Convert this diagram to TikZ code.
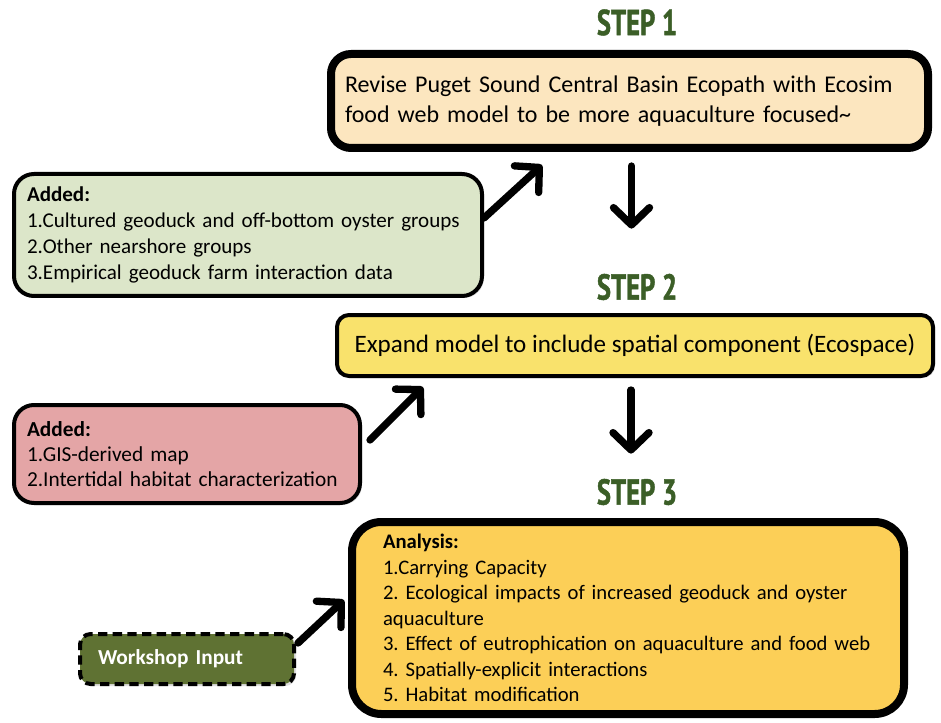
\documentclass[tikz,border=0pt]{standalone}
\usepackage{fontspec}
\setmainfont{Carlito}
\newfontfamily\stepfont[FakeStretch=0.74,FakeBold=1.2]{PT Sans}
\usetikzlibrary{arrows.meta,shadows}

\definecolor{peach}{HTML}{FCE6BF}
\definecolor{sage}{HTML}{DCE6C9}
\definecolor{lemon}{HTML}{F9E26C}
\definecolor{rose}{HTML}{E4A5A6}
\definecolor{amber}{HTML}{FCCF57}
\definecolor{olive}{HTML}{5F7233}
\definecolor{stepgreen}{HTML}{3B5E27}

\tikzset{
  box/.style={draw=black, align=left, rounded corners=12pt,
    drop shadow={opacity=0.25, shadow xshift=1.5pt, shadow yshift=-1.5pt}},
  steplabel/.style={text=stepgreen, inner sep=0pt,
    font=\stepfont\bfseries\fontsize{27}{27}\selectfont},
  flow/.style={line width=5.5pt, line cap=round,
    -{Straight Barb[length=13pt, width=27pt, line cap=round, line join=round]}},
}

\begin{document}
\frenchspacing
\begin{tikzpicture}[x=0.75pt,y=-0.75pt]
  \useasboundingbox (0,0) rectangle (941,723);

  % step headings
  \node[steplabel] (stepone) at (637,22.5) {STEP 1};
  \node[steplabel] (steptwo) at (637,287) {STEP 2};
  \node[steplabel] (stepthree) at (637,492) {STEP 3};

  % step boxes
  \node[box, fill=peach, line width=6pt, rounded corners=15pt,
    text width=426.75pt, inner xsep=10.5pt, minimum height=70.5pt,
    font=\fontsize{18}{22.5}\selectfont] (revise) at (629.5,101)
    {Revise Puget Sound Central Basin Ecopath with Ecosim\\
     food web model to be more aquaculture focused\textasciitilde};
  \node[box, fill=lemon, line width=3pt, rounded corners=9pt, align=center,
    minimum width=447pt, minimum height=45.75pt,
    font=\fontsize{18.8}{22}\selectfont] (expand) at (635,345.5)
    {Expand model to include spatial component (Ecospace)};
  \node[box, fill=amber, line width=6pt, rounded corners=22pt,
    text width=367.5pt, inner xsep=23.25pt, minimum height=144pt,
    font=\fontsize{15.5}{19.1}\selectfont] (analysis) at (628,618)
    {\textbf{Analysis:}\\
     1.Carrying Capacity\\
     2. Ecological impacts of increased geoduck and oyster\\
     aquaculture\\
     3. Effect of eutrophication on aquaculture and food web\\
     4. Spatially-explicit interactions\\
     5. Habitat modification};

  % inputs
  \node[box, fill=sage, line width=3pt, rounded corners=15pt,
    text width=331.5pt, inner xsep=9.75pt, minimum height=91.5pt,
    font=\fontsize{15.8}{19.5}\selectfont] (addedone) at (248,235)
    {\textbf{Added:}\\
     1.Cultured geoduck and off-bottom oyster groups\\
     2.Other nearshore groups\\
     3.Empirical geoduck farm interaction data};
  \node[box, fill=rose, line width=3pt, rounded corners=15pt,
    text width=240pt, inner xsep=9.75pt, minimum height=73.5pt,
    font=\fontsize{16}{18.75}\selectfont] (addedtwo) at (187,454)
    {\textbf{Added:}\\
     1.GIS-derived map\\
     2.Intertidal habitat characterization};
  \node[box, fill=olive, line width=3pt, dashed, dash pattern=on 7pt off 4pt,
    rounded corners=8pt, text=white, text width=133.5pt, inner xsep=13.5pt,
    minimum height=37.5pt, font=\bfseries\fontsize{16}{18}\selectfont]
    (workshop) at (187,659) {Workshop Input};

  % arrows
  \draw[flow, shorten <=10.5pt, shorten >=33.75pt] ([xshift=1.5pt]revise.south)
    -- ([xshift=1.5pt]revise.south |- steptwo.north);
  \draw[flow, shorten <=9pt, shorten >=18.75pt] ([xshift=-3pt]expand.south)
    -- ([xshift=-3pt]expand.south |- stepthree.north);
  \draw[flow] ([yshift=12.75pt]addedone.east)
    -- ([xshift=-65.6pt,yshift=-9.75pt]revise.south);
  \draw[flow] ([xshift=6pt,yshift=10.5pt]addedtwo.east)
    -- ([xshift=66pt,yshift=-6.75pt]expand.south west);
  \draw[flow] ([xshift=1.5pt,yshift=12pt]workshop.east)
    -- ([xshift=-3pt,yshift=13.5pt]analysis.west);
\end{tikzpicture}
\end{document}
